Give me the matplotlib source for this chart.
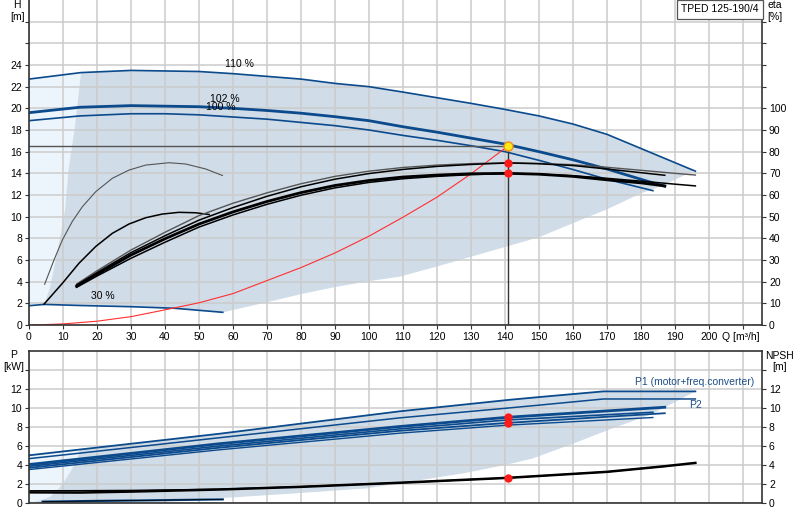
import matplotlib
matplotlib.use('Agg')
import matplotlib.pyplot as plt

plt.rcParams['font.family'] = ['Liberation Sans', 'DejaVu Sans']
plt.rcParams['font.size'] = 7.5

BLUE = '#0b4a8c'
SHADE = '#d0dce8'
LIGHT = '#ecf4fc'
GRID = '#cccccc'
SPINE = '#333333'

# --- Q-H curves (top chart) ---
q110 = [0, 15.3, 30, 40, 50, 60, 70, 80, 90, 100, 110, 120, 130, 140, 150, 160, 170, 196]
h110 = [22.7, 23.3, 23.5, 23.45, 23.4, 23.2, 22.95, 22.7, 22.3, 22.0, 21.5, 20.98, 20.46, 19.9, 19.3, 18.55, 17.6, 14.2]
q102 = [0, 15, 30, 40, 50, 60, 70, 80, 90, 100, 110, 120, 130, 140, 150, 160, 170, 180, 187]
h102 = [19.6, 20.1, 20.25, 20.2, 20.15, 20.0, 19.8, 19.55, 19.23, 18.86, 18.3, 17.8, 17.25, 16.7, 16.0, 15.25, 14.4, 13.45, 12.8]
q100 = [0, 15, 30, 40, 50, 60, 70, 80, 90, 100, 110, 120, 130, 140, 150, 160, 170, 183.5]
h100 = [18.86, 19.3, 19.5, 19.5, 19.4, 19.2, 19.0, 18.7, 18.4, 18.0, 17.5, 17.05, 16.55, 16.0, 15.2, 14.35, 13.45, 12.4]
q30 = [0, 4.5, 15, 30, 43, 57]
h30 = [1.78, 1.9, 1.8, 1.69, 1.54, 1.17]

# edges of the operating range (top chart)
qlo = [196, 186.6, 180, 170, 160, 150, 130, 120, 109, 100, 90, 80, 70, 57]
hlo = [14.3, 12.9, 12.15, 10.68, 9.4, 8.1, 6.3, 5.4, 4.46, 4.05, 3.5, 2.85, 2.1, 1.17]
qle = [4.5, 6.2, 8.6, 10.6, 11.6, 13.5, 15.3]
hle = [1.9, 3.5, 7.2, 10.6, 14.3, 18.3, 23.3]

# system curve
qsys = [1, 10, 20, 30, 40, 50, 60, 70, 80, 90, 100, 110, 120, 130, 141]
hsys = [0, 0.1, 0.35, 0.77, 1.4, 2.05, 2.9, 4.1, 5.3, 6.65, 8.2, 9.95, 11.8, 13.95, 16.55]

# duty point
q_duty = 141
h_duty = 16.55
eta_duty = [74.9, 70.0]

# --- efficiency curves ---
qe1 = [14, 20, 30, 40, 50, 60, 70, 80, 90, 100, 110, 120, 130, 141, 150, 160, 170, 180, 190, 196]
e1 = [18.9, 25.0, 34.6, 42.8, 50.5, 56.2, 61.0, 65.2, 68.6, 71.0, 72.7, 73.8, 74.5, 74.9, 74.6, 74.0, 72.8, 71.4, 70.0, 69.2]
qe2 = [14, 20, 30, 40, 50, 60, 70, 80, 90, 100, 110, 120, 130, 141, 150, 160, 170, 180, 187]
e2 = [18.4, 24.2, 33.4, 41.2, 48.4, 54.2, 59.4, 63.8, 67.3, 69.9, 71.8, 73.2, 74.1, 74.8, 74.4, 73.6, 72.0, 70.3, 69.1]
e3 = [17.9, 23.4, 32.3, 39.8, 46.6, 52.2, 57.0, 61.1, 64.4, 66.7, 68.3, 69.2, 69.8, 70.0, 69.6, 68.6, 67.0, 65.6, 64.2]
e4 = [17.4, 22.6, 30.8, 38.2, 45.2, 50.8, 55.7, 59.9, 63.3, 65.8, 67.5, 68.6, 69.4, 69.9, 69.6, 68.9, 67.7, 66.4, 65.0, 64.2]
qthin = [4.6, 7.35, 9.8, 12.7, 15.7, 19.6, 24.5, 29.4, 34.3, 41.2, 46.1, 52, 56.9]
ethin = [18.8, 30, 39.2, 47.7, 54.6, 61.5, 67.7, 71.5, 73.8, 74.9, 74.3, 72, 69]
qmid = [4.4, 9.8, 14.7, 19.6, 24.5, 29.4, 34.3, 39.2, 44.1, 49, 53]
emid = [9.6, 19.2, 28.5, 36.2, 42.3, 46.6, 49.5, 51.2, 52.0, 51.8, 51.0]

# --- power curves (bottom chart) ---
qp110 = [0, 15, 56, 109, 141, 150, 169, 196]
p1_110 = [5.02, 5.63, 7.29, 9.65, 10.85, 11.15, 11.75, 11.75]
p2_110 = [4.67, 5.25, 6.87, 8.96, 10.0, 10.3, 10.95, 10.95]
qp102 = [0, 56, 109, 141, 187]
p1_102 = [4.05, 6.24, 8.05, 9.03, 10.08]
p2_102 = [3.7, 5.82, 7.6, 8.44, 9.45]
qp100 = [0, 56, 109, 141, 183.5]
p1_100 = [3.87, 6.0, 7.8, 8.75, 9.55]
p2_100 = [3.52, 5.6, 7.35, 8.2, 9.0]
qp30 = [4, 20, 40, 57]
p30 = [0.14, 0.22, 0.3, 0.38]
p_duty = [9.03, 8.44]

# NPSH
qn1 = [0, 15, 30, 56, 80, 109, 141, 170, 187, 196]
npsh1 = [1.12, 1.1, 1.2, 1.42, 1.7, 2.13, 2.65, 3.28, 3.87, 4.22]
qn2 = [0, 15, 30, 56, 80, 109, 141, 170, 187]
npsh2 = [1.29, 1.3, 1.33, 1.45, 1.72, 2.13, 2.65, 3.28, 3.87]
npsh_duty = 2.65

# edges of the operating range (bottom chart)
qpl = [196, 183.5, 170, 160, 148, 140, 128.5, 109, 99, 78, 60, 41, 21]
ppl = [11.75, 9.4, 7.64, 6.24, 4.67, 4.0, 3.17, 2.06, 1.53, 1.01, 0.59, 0.2, 0.07]
qpe = [1.3, 3.5, 6.2, 8.5, 10.6, 12.2, 13.5, 14.2, 15]
ppe = [0.1, 0.3, 0.66, 1.4, 2.4, 3.3, 4.15, 4.67, 5.63]

QMAX = 215.6

fig = plt.figure(figsize=(8, 5.2), dpi=100)
ax1 = fig.add_axes([29 / 800, 1 - 325 / 520, 733 / 800, 325 / 520])
ax2 = fig.add_axes([29 / 800, 1 - 503 / 520, 733 / 800, 152 / 520])


def style_axes(ax):
    ax.set_xlim(0, QMAX)
    ax.set_axisbelow('line')
    ax.grid(True, color=GRID, lw=1.1)
    for s in ax.spines.values():
        s.set_color(SPINE)
        s.set_linewidth(1.2)
    ax.tick_params(direction='out', length=3, width=0.8, color=SPINE, pad=2)
    ax.set_xticks(range(0, 220, 10))


# ---------- top chart ----------
style_axes(ax1)
ax1.spines['top'].set_visible(False)
ax1.set_ylim(0, 30)
ax1.set_yticks(range(0, 30, 2))
ax1.set_yticklabels([str(v) if v <= 24 else '' for v in range(0, 30, 2)])
ax1.set_xticklabels([str(v) if v <= 200 else '' for v in range(0, 220, 10)])

# operating range shading
ax1.fill([q30[0]] + qle + [q110[0]], [h30[0]] + hle + [h110[0]],
         color=LIGHT, lw=0, zorder=0.8)
ax1.fill(q110[1:] + qlo + q30[:0:-1] + qle[1:-1], h110[1:] + hlo + h30[:0:-1] + hle[1:-1],
         color=SHADE, lw=0, zorder=0.9)

ax1.plot(q110, h110, color=BLUE, lw=1.2)
ax1.plot(q102, h102, color=BLUE, lw=2.0)
ax1.plot(q100, h100, color=BLUE, lw=1.2)
ax1.plot(q30, h30, color=BLUE, lw=1.2)
ax1.plot(qsys, hsys, color='#ff3030', lw=0.8)

ax1.plot([0, q_duty], [h_duty, h_duty], color='#555555', lw=1.0)
ax1.plot([q_duty, q_duty], [0, h_duty], color='#333333', lw=1.0)

ax1.text(61.8, 24.1, '110 %', ha='center', va='center')
ax1.text(57.6, 20.9, '102 %', ha='center', va='center')
ax1.text(56.4, 20.15, '100 %', ha='center', va='center')
ax1.text(21.6, 2.7, '30 %', ha='center', va='center')
ax1.text(203.8, -1.15, 'Q [m³/h]', ha='left', va='center', clip_on=False)

# efficiency on the right axis
ax1e = ax1.twinx()
ax1e.set_xlim(0, QMAX)
ax1e.set_ylim(0, 150)
ax1e.set_yticks(range(0, 150, 10))
ax1e.set_yticklabels([str(v) if v <= 100 else '' for v in range(0, 150, 10)])
ax1e.tick_params(direction='out', length=3, width=0.8, color=SPINE, pad=2)
for s in ax1e.spines.values():
    s.set_visible(False)

ax1e.plot(qthin, ethin, color='#555555', lw=0.8)
ax1e.plot(qmid, emid, color='black', lw=1.1)
ax1e.plot(qe1, e1, color='#555555', lw=1.0)
ax1e.plot(qe2, e2, color='black', lw=1.1)
ax1e.plot(qe2, e3, color='black', lw=2.0)
ax1e.plot(qe1, e4, color='black', lw=1.1)
ax1e.plot([q_duty] * len(eta_duty), eta_duty, 'o', color='#ff1a1a', ms=5, zorder=5)

ax1.plot([q_duty], [h_duty], 'o', ms=6.5, mfc='#ffe81a', mec='#f08c1a', mew=1.0, zorder=6)

# ---------- bottom chart ----------
style_axes(ax2)
ax2.set_ylim(0, 16)
ax2.set_yticks(range(0, 16, 2))
ax2.set_yticklabels([str(v) if v <= 12 else '' for v in range(0, 16, 2)])
ax2.tick_params(axis='x', length=0, labelbottom=False)
ax2.tick_params(axis='y', right=True, labelright=True)

ax2.fill([0, qpe[0]] + qpe + [qp110[1], qp110[0]],
         [ppe[0], ppe[0]] + ppe + [p1_110[1], p1_110[0]],
         color=LIGHT, lw=0, zorder=0.8)
ax2.fill(qp110[1:] + qpl + qpe, p1_110[1:] + ppl + ppe,
         color=SHADE, lw=0, zorder=0.9)

ax2.plot(qp110, p1_110, color=BLUE, lw=1.3)
ax2.plot(qp110, p2_110, color=BLUE, lw=1.1)
ax2.plot(qp102, p1_102, color=BLUE, lw=2.0)
ax2.plot(qp100, p1_100, color=BLUE, lw=1.2)
ax2.plot(qp102, p2_102, color=BLUE, lw=1.3)
ax2.plot(qp100, p2_100, color=BLUE, lw=1.0)
ax2.plot(qp30, p30, color=BLUE, lw=1.6)
ax2.plot(qp30, p30, color='black', lw=0.6)
ax2.plot(qn2, npsh2, color='black', lw=1.0)
ax2.plot(qn1, npsh1, color='black', lw=1.8)

ax2.plot([q_duty] * len(p_duty), p_duty, 'o', color='#ff1a1a', ms=5, zorder=5)
ax2.plot([q_duty], [npsh_duty], 'o', color='#ff1a1a', ms=5, zorder=5)

ax2.text(195.8, 12.7, 'P1 (motor+freq.converter)', color='#1f4f86', ha='center', va='center')
ax2.text(196, 10.3, 'P2', color='#1f4f86', ha='center', va='center')


# axis titles and model box
def ftext(x, y, s):
    fig.text(x / 800, 1 - y / 520, s, ha='center', va='center')


ftext(16.5, 4.5, 'H')
ftext(17.3, 17, '[m]')
ftext(774.7, 4.5, 'eta')
ftext(775, 17, '[%]')
ftext(13.5, 355, 'P')
ftext(13.7, 366.7, '[kW]')
ftext(779.7, 355.8, 'NPSH')
ftext(780, 367, '[m]')

fig.text(720 / 800, 1 - 9.5 / 520, 'TPED 125-190/4', ha='center', va='center',
         bbox=dict(boxstyle='square,pad=0.45', fc='white', ec='#555555', lw=0.9))

fig.savefig('out.png', dpi=100)
